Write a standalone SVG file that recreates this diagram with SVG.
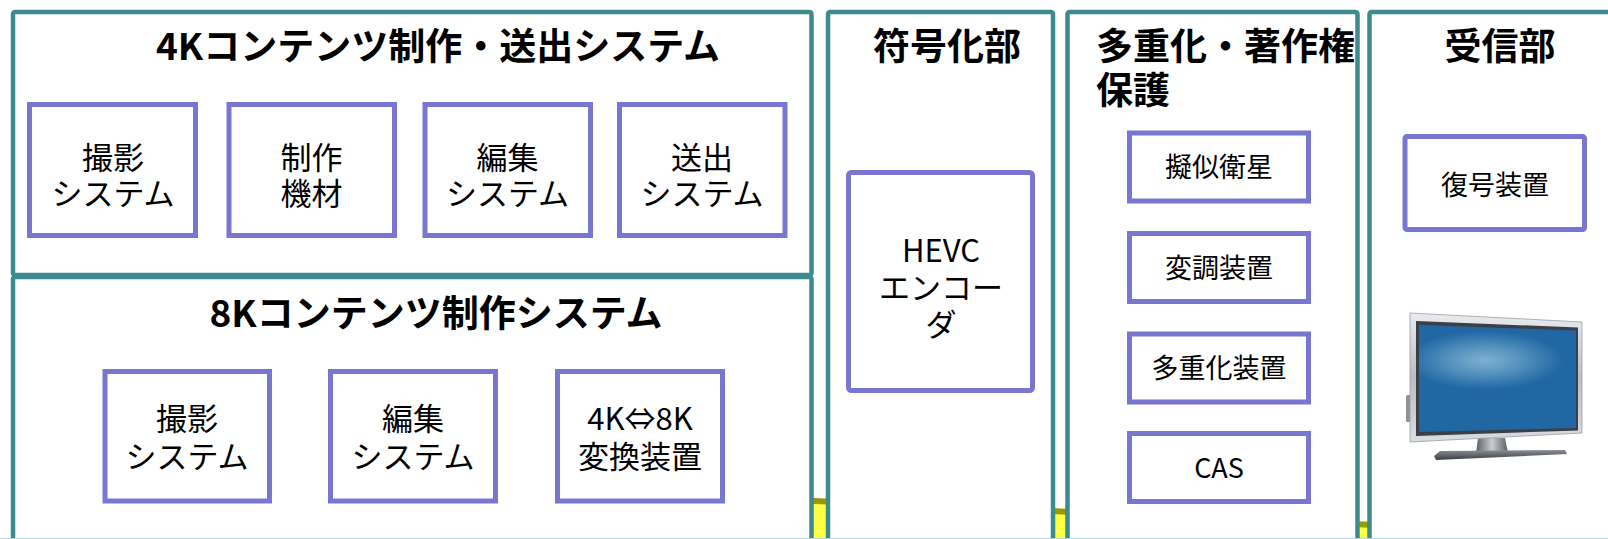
<svg xmlns="http://www.w3.org/2000/svg" width="1608" height="539" viewBox="0 0 1608 539">
  <defs>
    <style>
      .panel { fill: #ffffff; stroke: #3d8b8f; stroke-width: 4.5; }
      .box { fill: #ffffff; stroke: #7876d0; stroke-width: 5; }
      .title { font-family: "Noto Sans CJK JP", "Noto Sans", sans-serif; font-weight: 700; font-size: 37px; fill: #000; }
      .label { font-family: "Noto Sans CJK JP", "Noto Sans", sans-serif; font-weight: 400; font-size: 31px; fill: #000; text-anchor: middle; }
      .small { font-size: 27px; }
    </style>
    <linearGradient id="frameGrad" x1="0" y1="0" x2="0" y2="1">
      <stop offset="0" stop-color="#e9ecef"/>
      <stop offset="0.5" stop-color="#b9bec4"/>
      <stop offset="1" stop-color="#d9dde1"/>
    </linearGradient>
    <radialGradient id="screenGlow" cx="0.42" cy="0.33" r="0.5" gradientTransform="translate(0.42 0.33) scale(1 0.55) translate(-0.42 -0.33)">
      <stop offset="0" stop-color="#7fb0cf"/>
      <stop offset="0.45" stop-color="#5693bf"/>
      <stop offset="1" stop-color="#2067a4"/>
    </radialGradient>
    <linearGradient id="baseGrad" x1="0" y1="0" x2="0" y2="1">
      <stop offset="0" stop-color="#8a8f96"/>
      <stop offset="1" stop-color="#3a3e44"/>
    </linearGradient>
    <linearGradient id="neckGrad" x1="0" y1="0" x2="1" y2="0">
      <stop offset="0" stop-color="#5b6067"/>
      <stop offset="0.5" stop-color="#c9cdd2"/>
      <stop offset="1" stop-color="#5b6067"/>
    </linearGradient>
  </defs>

  <rect x="0" y="0" width="1608" height="539" fill="#ffffff"/>

  <!-- signal flow band running behind the panels -->
  <g id="connectors">
    <polygon points="700,496 1700,539 1700,560 700,560" fill="#ffff44" stroke="#999900" stroke-width="6"/>
  </g>

  <!-- 4K production / playout -->
  <g id="panel-4k">
    <rect class="panel" x="13" y="12" width="798.5" height="263" rx="2"/>
    <text class="title" x="438" y="60" text-anchor="middle">4Kコンテンツ制作・送出システム</text>
  </g>
  <g id="node-4k-camera">
    <rect class="box" x="29.5" y="104.5" width="166" height="131"/>
    <text class="label" x="113" y="169">撮影<tspan x="113" dy="36">システム</tspan></text>
  </g>
  <g id="node-4k-equipment">
    <rect class="box" x="229" y="104.5" width="165.5" height="131"/>
    <text class="label" x="311.5" y="169">制作<tspan x="311.5" dy="36">機材</tspan></text>
  </g>
  <g id="node-4k-editing">
    <rect class="box" x="425" y="104.5" width="165.5" height="131"/>
    <text class="label" x="507.5" y="169">編集<tspan x="507.5" dy="36">システム</tspan></text>
  </g>
  <g id="node-4k-playout">
    <rect class="box" x="619.5" y="104.5" width="165.5" height="131"/>
    <text class="label" x="702" y="169">送出<tspan x="702" dy="36">システム</tspan></text>
  </g>

  <!-- 8K production -->
  <g id="panel-8k">
    <rect class="panel" x="13" y="277" width="798.5" height="270" rx="2"/>
    <text class="title" x="436" y="327" text-anchor="middle">8Kコンテンツ制作システム</text>
  </g>
  <g id="node-8k-camera">
    <rect class="box" x="105" y="371.5" width="164.5" height="129.5"/>
    <text class="label" x="187" y="430">撮影<tspan x="187" dy="38">システム</tspan></text>
  </g>
  <g id="node-8k-editing">
    <rect class="box" x="330.5" y="371.5" width="165" height="129.5"/>
    <text class="label" x="413" y="430">編集<tspan x="413" dy="38">システム</tspan></text>
  </g>
  <g id="node-8k-converter">
    <rect class="box" x="557.5" y="371.5" width="165" height="129.5"/>
    <text class="label" x="640" y="430">4K⇔8K<tspan x="640" dy="38">変換装置</tspan></text>
  </g>

  <!-- encoder -->
  <g id="panel-encoder">
    <rect class="panel" x="828" y="12" width="225" height="535" rx="2"/>
    <text class="title" x="947" y="60" text-anchor="middle">符号化部</text>
  </g>
  <g id="node-hevc">
    <rect class="box" x="848.5" y="172.5" width="184" height="218" rx="3"/>
    <text class="label" x="941" y="262">HEVC<tspan x="941" dy="37">エンコー</tspan><tspan x="941" dy="37">ダ</tspan></text>
  </g>

  <!-- multiplexing / copyright protection -->
  <g id="panel-mux">
    <rect class="panel" x="1067.5" y="12" width="290" height="535" rx="2"/>
    <text class="title" x="1096" y="60">多重化・著作権<tspan x="1096" dy="44">保護</tspan></text>
  </g>
  <g id="node-pseudo-satellite">
    <rect class="box" x="1129.5" y="133" width="179" height="68"/>
    <text class="label small" x="1219" y="177">擬似衛星</text>
  </g>
  <g id="node-modulator">
    <rect class="box" x="1129.5" y="233.5" width="179" height="68"/>
    <text class="label small" x="1219" y="277.5">変調装置</text>
  </g>
  <g id="node-multiplexer">
    <rect class="box" x="1129.5" y="334" width="179" height="68"/>
    <text class="label small" x="1219" y="378">多重化装置</text>
  </g>
  <g id="node-cas">
    <rect class="box" x="1129.5" y="433.5" width="179" height="68"/>
    <text class="label small" x="1219" y="477.5">CAS</text>
  </g>

  <!-- receiver -->
  <g id="panel-receiver">
    <rect class="panel" x="1369.5" y="12" width="300" height="535" rx="2"/>
    <text class="title" x="1500" y="60" text-anchor="middle">受信部</text>
  </g>
  <g id="node-decoder">
    <rect class="box" x="1405" y="136.5" width="179.5" height="93" rx="2"/>
    <text class="label small" x="1495" y="195">復号装置</text>
  </g>
  <g id="node-tv">
    <!-- side button -->
    <rect x="1406" y="395" width="5" height="27" rx="1.5" fill="#8d9298"/>
    <!-- stand -->
    <polygon points="1478,438 1505,438 1508,453 1476,453" fill="url(#neckGrad)"/>
    <polygon points="1434,456 1440,451 1565,450 1567,454 1436,460" fill="url(#baseGrad)"/>
    <!-- bezel -->
    <polygon points="1410,313 1582,322 1582,433 1410,442" fill="url(#frameGrad)" stroke="#9aa0a6" stroke-width="0.8"/>
    <polygon points="1416,321 1578,327.5 1578,430.5 1416,436" fill="#3b4047"/>
    <!-- screen -->
    <polygon points="1419,325 1576,330.5 1576,428 1419,432" fill="url(#screenGlow)"/>
  </g>

  <!-- bottom edge line -->
  <line x1="0" y1="538.5" x2="1608" y2="538.5" stroke="#b2d8d9" stroke-width="1"/>
</svg>
